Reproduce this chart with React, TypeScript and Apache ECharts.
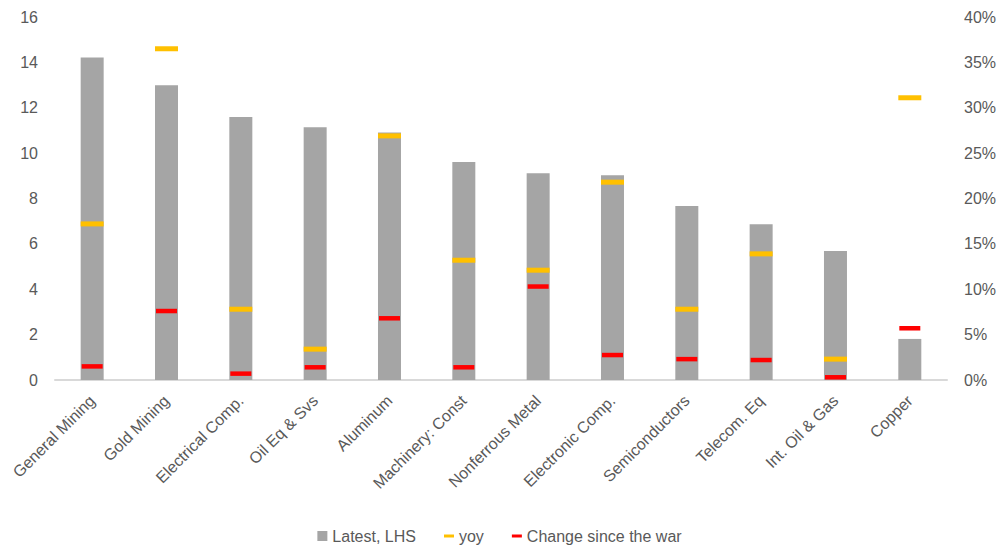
import React, { useEffect, useRef } from "react";
import * as echarts from "echarts";

const categories = [
  "General Mining",
  "Gold Mining",
  "Electrical Comp.",
  "Oil Eq & Svs",
  "Aluminum",
  "Machinery: Const",
  "Nonferrous Metal",
  "Electronic Comp.",
  "Semiconductors",
  "Telecom. Eq",
  "Int. Oil & Gas",
  "Copper",
];

const latest = [14.22, 12.99, 11.59, 11.14, 10.91, 9.61, 9.11, 9.02, 7.67, 6.86, 5.69, 1.81];
const yoy = [17.2, 36.5, 7.8, 3.4, 26.9, 13.2, 12.1, 21.8, 7.8, 13.9, 2.3, 31.1];
const sinceWar = [1.5, 7.6, 0.7, 1.4, 6.8, 1.4, 10.3, 2.75, 2.3, 2.2, 0.3, 5.7];

const leftTicks = { min: 0, max: 16, interval: 2 };
const rightTicks = { min: 0, max: 40, interval: 5 };

const FONT = "'Liberation Sans', Arial, sans-serif";
const TXT = "#595959";

export default function App() {
  const ref = useRef<HTMLDivElement>(null);
  useEffect(() => {
    if (!ref.current) return;
    const chart = echarts.init(ref.current, null, { renderer: "svg" });
    chart.setOption({
      animation: false,
      backgroundColor: "#ffffff",
      textStyle: { fontFamily: FONT },
      grid: { left: 55, right: 49, top: 17, bottom: 168, containLabel: false },
      legend: {
        top: 523,
        left: "center",
        itemGap: 28,
        itemWidth: 10,
        itemHeight: 10,
        textStyle: { color: TXT, fontSize: 16, fontFamily: FONT },
        data: [
          { name: "Latest, LHS", icon: "rect" },
          { name: "yoy", icon: "path://M0,0H10V3H0Z" },
          { name: "Change since the war", icon: "path://M0,0H10V3H0Z" },
        ],
      },
      xAxis: {
        type: "category",
        data: categories,
        axisLine: { lineStyle: { color: "#D9D9D9", width: 2 } },
        axisTick: { show: false },
        axisLabel: {
          rotate: 45,
          color: TXT,
          fontSize: 16,
          fontFamily: FONT,
          margin: 18,
          interval: 0,
        },
      },
      yAxis: [
        {
          type: "value",
          min: leftTicks.min,
          max: leftTicks.max,
          interval: leftTicks.interval,
          splitLine: { show: false },
          axisLine: { show: false },
          axisTick: { show: false },
          axisLabel: { color: TXT, fontSize: 16, fontFamily: FONT, margin: 17 },
        },
        {
          type: "value",
          min: rightTicks.min,
          max: rightTicks.max,
          interval: rightTicks.interval,
          splitLine: { show: false },
          axisLine: { show: false },
          axisTick: { show: false },
          axisLabel: {
            color: TXT,
            fontSize: 16,
            fontFamily: FONT,
            margin: 17,
            formatter: "{value}%",
          },
        },
      ],
      series: [
        {
          name: "Latest, LHS",
          type: "bar",
          data: latest,
          barWidth: 23,
          yAxisIndex: 0,
          itemStyle: { color: "#A5A5A5" },
          z: 1,
        },
        {
          name: "yoy",
          type: "scatter",
          data: yoy,
          yAxisIndex: 1,
          symbol: "rect",
          symbolSize: [23, 5],
          itemStyle: { color: "#FFC000", opacity: 1 },
          z: 3,
        },
        {
          name: "Change since the war",
          type: "scatter",
          data: sinceWar,
          yAxisIndex: 1,
          symbol: "rect",
          symbolSize: [21, 4.5],
          itemStyle: { color: "#FF0000", opacity: 1 },
          z: 4,
        },
      ],
    });
    return () => chart.dispose();
  }, []);
  return (
    <div
      ref={ref}
      style={{ position: "absolute", left: 0, top: 0, width: 999, height: 548 }}
    />
  );
}
